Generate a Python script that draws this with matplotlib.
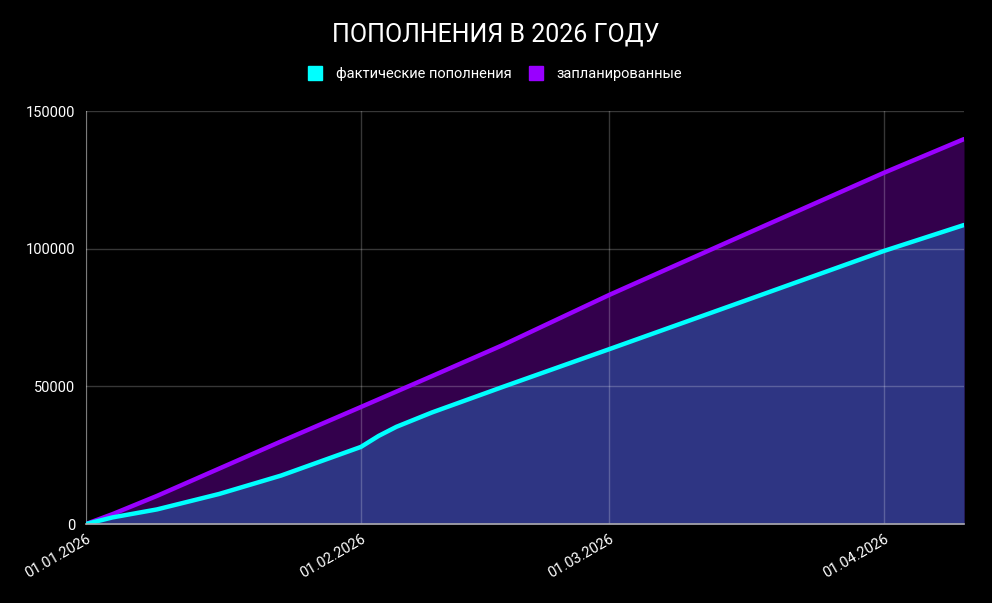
import matplotlib
matplotlib.use("Agg")
import matplotlib.pyplot as plt
import matplotlib.dates as mdates
import numpy as np
import pandas as pd

# data
dates = ["2026-01-01", "2026-01-04", "2026-01-09", "2026-01-16", "2026-01-23",
         "2026-02-01", "2026-02-03", "2026-02-05", "2026-02-09", "2026-02-17",
         "2026-03-01", "2026-03-15", "2026-04-01", "2026-04-10"]
actual = [0, 2400, 5300, 10900, 17600, 28000, 32000, 35300, 40500, 49800,
          63500, 79600, 99200, 108600]
planned = [0, 3600, 10200, 20100, 30000, 42500, 45300, 48100, 53700, 65000,
           83200, 103300, 127600, 139800]
month_ticks = ["2026-01-01", "2026-02-01", "2026-03-01", "2026-04-01"]
y_ticks = [0, 50000, 100000, 150000]

title = "ПОПОЛНЕНИЯ В 2026 ГОДУ"
lbl_actual = "фактические пополнения"
lbl_planned = "запланированные"

plt.rcParams['font.family'] = ['Roboto', 'DejaVu Sans']

x = pd.to_datetime(dates)
xt = pd.to_datetime(month_ticks)

fig = plt.figure(figsize=(9.92, 6.03), dpi=100, facecolor='black')
ax = fig.add_axes([86/992, 79/603, 878/992, 413/603])
ax.set_facecolor('black')

cyan = '#00ffff'
purple = '#9900ff'

ax.fill_between(x, 0, planned, color='#33004c', lw=0, zorder=1)
ax.fill_between(x, 0, actual, color='#2e3583', lw=0, zorder=1.5)
ax.plot(x, planned, color=purple, lw=3.2, solid_capstyle='round',
        solid_joinstyle='round', zorder=4)
ax.plot(x, actual, color=cyan, lw=3.2, solid_capstyle='round',
        solid_joinstyle='round', zorder=4)

ax.set_xlim(x[0], x[-1])
ax.set_ylim(0, 150000)
ax.set_xticks(xt)
ax.xaxis.set_major_formatter(mdates.DateFormatter('%d.%m.%Y'))
ax.set_yticks(y_ticks)
ax.set_yticklabels([str(v) for v in y_ticks])

ax.grid(True, color='white', alpha=0.22, lw=1, zorder=2)
ax.set_axisbelow(False)
for s in ['top', 'right']:
    ax.spines[s].set_visible(False)
ax.spines['left'].set_color('#555555')
ax.spines['bottom'].set_color('#aaaaaa')
ax.spines['bottom'].set_linewidth(1.2)
ax.spines['bottom'].set_zorder(5)

ax.tick_params(axis='both', length=0, colors='white', labelsize=10.5)
ax.tick_params(axis='y', pad=8)
ax.tick_params(axis='x', pad=6)
for lab in ax.get_xticklabels():
    lab.set_rotation(30)
    lab.set_ha('right')
    lab.set_rotation_mode('anchor')

fig.text(0.5, 1 - 35/603, title, color='white', fontsize=18,
         ha='center', va='center')

# legend drawn as two square markers with text
handles = [plt.Line2D([], [], marker='s', ls='', markersize=10, color=cyan),
           plt.Line2D([], [], marker='s', ls='', markersize=10, color=purple)]
fig.legend(handles, [lbl_actual, lbl_planned], loc='center',
           bbox_to_anchor=(0.5, 1 - 74/603), ncol=2, frameon=False,
           labelcolor='white', fontsize=10.5, handlelength=0.8,
           handletextpad=1.0, columnspacing=1.3)

fig.savefig('out.png', dpi=100, facecolor='black')
